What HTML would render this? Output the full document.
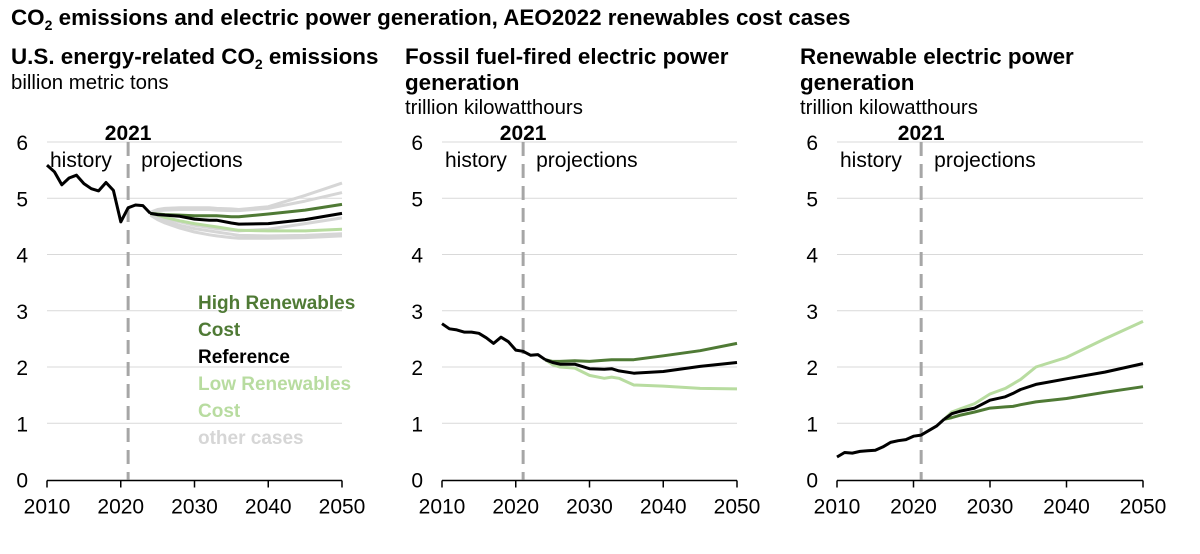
<!DOCTYPE html>
<html><head><meta charset="utf-8"><style>
body{margin:0;background:#fff;width:1200px;height:549px;overflow:hidden;font-family:"Liberation Sans",Arial,sans-serif}
svg text{font-family:"Liberation Sans",Arial,sans-serif}
</style></head><body>
<svg id="c" width="1200" height="549"></svg>
<script>
const years=[2010,2011,2012,2013,2014,2015,2016,2017,2018,2019,2020,2021,2022,2023,2024];
const co2Hist=[5.59,5.47,5.24,5.36,5.41,5.26,5.17,5.13,5.28,5.14,4.58,4.83,4.88,4.87,4.73];
const projYears=[2024,2025,2026,2028,2030,2032,2033,2035,2036,2040,2045,2050];
const co2Ref=[4.73,4.71,4.70,4.68,4.63,4.61,4.61,4.56,4.54,4.55,4.62,4.73];
const co2High=[4.73,4.72,4.71,4.70,4.69,4.69,4.69,4.67,4.67,4.72,4.79,4.89];
const co2Low=[4.73,4.70,4.66,4.60,4.55,4.51,4.49,4.45,4.43,4.42,4.42,4.45];
const co2Other1=[4.75,4.80,4.82,4.83,4.83,4.83,4.82,4.81,4.80,4.85,5.05,5.27];
const co2Other2=[4.75,4.78,4.79,4.80,4.80,4.80,4.79,4.78,4.78,4.82,4.95,5.10];
const co2Other3=[4.72,4.68,4.64,4.58,4.52,4.48,4.46,4.43,4.42,4.45,4.55,4.65];
const co2Other4=[4.72,4.66,4.60,4.52,4.46,4.42,4.40,4.36,4.34,4.33,4.34,4.37];
const co2Other5=[4.70,4.62,4.56,4.47,4.40,4.35,4.33,4.30,4.29,4.29,4.30,4.33];
const fosHist=[2.77,2.68,2.66,2.62,2.62,2.60,2.52,2.42,2.53,2.45,2.30,2.28,2.21,2.22,2.13];
const fosYears=[2024,2025,2026,2028,2030,2032,2033,2034,2036,2040,2045,2050];
const fosRef=[2.13,2.08,2.05,2.05,1.97,1.96,1.97,1.93,1.89,1.92,2.01,2.08];
const fosHigh=[2.13,2.10,2.10,2.11,2.10,2.12,2.13,2.13,2.13,2.20,2.29,2.42];
const fosLow=[2.13,2.04,2.00,1.98,1.85,1.80,1.82,1.80,1.68,1.66,1.62,1.61];
const renHist=[0.40,0.48,0.47,0.50,0.51,0.52,0.58,0.66,0.69,0.71,0.77,0.79,0.87,0.95,1.07];
const renYears=[2024,2025,2026,2028,2030,2032,2033,2034,2036,2040,2045,2050];
const renRef=[1.07,1.17,1.21,1.27,1.41,1.47,1.53,1.60,1.69,1.79,1.91,2.06];
const renHigh=[1.07,1.10,1.14,1.20,1.27,1.29,1.30,1.33,1.38,1.44,1.55,1.65];
const renLow=[1.07,1.20,1.25,1.35,1.52,1.62,1.70,1.78,2.00,2.17,2.50,2.81];
const yTicks=[0,1,2,3,4,5,6];
const xTicks=[2010,2020,2030,2040,2050];

const NS="http://www.w3.org/2000/svg";
const svg=document.getElementById('c');
function el(tag,attrs,parent){const e=document.createElementNS(NS,tag);for(const k in attrs)e.setAttribute(k,attrs[k]);(parent||svg).appendChild(e);return e;}
function txt(s,x,y,attrs,name){const t=el('text',Object.assign({x:x,y:y,'font-size':21,fill:'#000'},attrs));t.textContent=s;

return t;}

const C_HIGH='#4f7a35',C_LOW='#b8dca0',C_GRAY='#d6d6d6';
function panel(x0,x1,name){
  const y0=479.5,ppu=56.25;
  const sx=v=>x0+(v-2010)*(x1-x0)/40, sy=v=>y0-v*ppu;
  const g=el('g',{});
  
  
  yTicks.forEach(t=>{
    if(t>0){const l=el('line',{x1:x0,x2:x1,y1:sy(t),y2:sy(t),stroke:'#d9d9d9','stroke-width':1},g);
    
    }
    txt(String(t),x0-19,sy(t)+8,{'text-anchor':'end'},'y-tick-label');
  });
  const ax=el('line',{x1:x0,x2:x1,y1:y0+1,y2:y0+1,stroke:'#000','stroke-width':1.5},g);
  
  
  xTicks.forEach(t=>{
    const tk=el('line',{x1:sx(t),x2:sx(t),y1:y0+1,y2:y0+8,stroke:'#000','stroke-width':1.5},g);
    
    
    txt(String(t),sx(t),y0+34,{'text-anchor':'middle'},'x-tick-label');
  });
  const d=el('line',{x1:sx(2021),x2:sx(2021),y1:142,y2:y0,stroke:'#a6a6a6','stroke-width':3,'stroke-dasharray':'14,8'},g);
  
  
  txt('2021',sx(2021),140,{'text-anchor':'middle','font-weight':'bold'},'divider-label');
  txt('history',x0+3,167,{},'history-label');
  txt('projections',sx(2021)+13,167,{},'projections-label');
  return {sx,sy,g};
}
function line(p,xs,ys,color,w,name){
  const pts=xs.map((x,i)=>p.sx(x).toFixed(1)+','+p.sy(ys[i]).toFixed(1)).join(' ');
  const l=el('polyline',{points:pts,fill:'none',stroke:color,'stroke-width':w,'stroke-linejoin':'round'},p.g);
  
  
}
const tt=txt('',11,25,{'font-weight':'bold','font-size':22.4},'chart-title');
tt.innerHTML='CO<tspan font-size="14" dy="5">2</tspan><tspan dy="-5"> emissions and electric power generation, AEO2022 renewables cost cases</tspan>';
// panel 1
const p1=panel(47,342,'co2-panel');
[co2Other1,co2Other2,co2Other3,co2Other4,co2Other5].forEach(a=>line(p1,projYears,a,C_GRAY,3,'co2-other-case'));
line(p1,projYears,co2Low,C_LOW,3,'co2-low-renewables');
line(p1,projYears,co2High,C_HIGH,3,'co2-high-renewables');
line(p1,years,co2Hist,'#000',3,'co2-history');
line(p1,projYears,co2Ref,'#000',3,'co2-reference');
const t1=txt('',11,64,{'font-weight':'bold','font-size':22.4},'panel1-title');
t1.innerHTML='U.S. energy-related CO<tspan font-size="14" dy="5">2</tspan><tspan dy="-5"> emissions</tspan>';
txt('billion metric tons',11,89,{'font-size':20.4},'panel1-subtitle');
[['High Renewables',309,C_HIGH],['Cost',336,C_HIGH],['Reference',363,'#000'],['Low Renewables',390,C_LOW],['Cost',417,C_LOW],['other cases',444,C_GRAY]].forEach(a=>{
  txt(a[0],198,a[1],{'font-weight':'bold','font-size':19,fill:a[2]},'legend-entry');
});
// panel 2
const p2=panel(442,737,'fossil-panel');
line(p2,fosYears,fosLow,C_LOW,3,'fossil-low-renewables');
line(p2,fosYears,fosHigh,C_HIGH,3,'fossil-high-renewables');
line(p2,years,fosHist,'#000',3,'fossil-history');
line(p2,fosYears,fosRef,'#000',3,'fossil-reference');
txt('Fossil fuel-fired electric power',405,64,{'font-weight':'bold','font-size':22.4},'panel2-title');
txt('generation',405,90,{'font-weight':'bold','font-size':22.4},'panel2-title-line2');
txt('trillion kilowatthours',405,114,{'font-size':20.4},'panel2-subtitle');
// panel 3
const p3=panel(837,1143,'renewables-panel');
line(p3,renYears,renLow,C_LOW,3,'renewables-low-cost');
line(p3,renYears,renHigh,C_HIGH,3,'renewables-high-cost');
line(p3,years,renHist,'#000',3,'renewables-history');
line(p3,renYears,renRef,'#000',3,'renewables-reference');
txt('Renewable electric power',800,64,{'font-weight':'bold','font-size':22.4},'panel3-title');
txt('generation',800,90,{'font-weight':'bold','font-size':22.4},'panel3-title-line2');
txt('trillion kilowatthours',800,114,{'font-size':20.4},'panel3-subtitle');
</script>
</body></html>
